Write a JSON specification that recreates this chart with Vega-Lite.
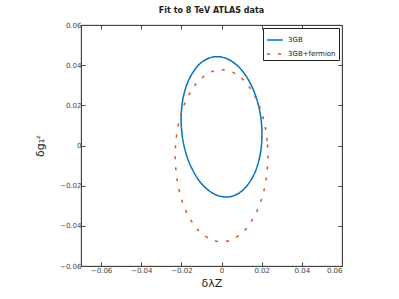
{
  "$schema": "https://vega.github.io/schema/vega-lite/v6.json",
  "width": 261,
  "height": 241,
  "autosize": "none",
  "padding": {"left": 81, "top": 25, "right": 57, "bottom": 33},
  "background": "white",
  "title": {"text": "Fit to 8 TeV ATLAS data", "font": "DejaVu Sans", "fontSize": 8, "fontWeight": "bold", "color": "#222", "offset": 6},
  "config": {
    "view": {"stroke": "#444", "strokeWidth": 0.8},
    "axis": {"labelFont": "DejaVu Sans", "labelFontSize": 7, "labelColor": "#444", "domainColor": "#444", "tickColor": "#444", "tickSize": -4, "grid": false, "titleFont": "DejaVu Sans", "titleFontWeight": "normal", "titleColor": "#222", "titleFontSize": 11, "format": ".2~f"}
  },
  "data": {"values": [
    {"s": "3GB", "i": 0, "x": 0.0201, "y": 0.0076},
    {"s": "3GB", "i": 1, "x": 0.0196, "y": 0.0137},
    {"s": "3GB", "i": 2, "x": 0.0185, "y": 0.0196},
    {"s": "3GB", "i": 3, "x": 0.0168, "y": 0.0253},
    {"s": "3GB", "i": 4, "x": 0.0146, "y": 0.0304},
    {"s": "3GB", "i": 5, "x": 0.0120, "y": 0.0349},
    {"s": "3GB", "i": 6, "x": 0.0090, "y": 0.0387},
    {"s": "3GB", "i": 7, "x": 0.0057, "y": 0.0415},
    {"s": "3GB", "i": 8, "x": 0.0023, "y": 0.0434},
    {"s": "3GB", "i": 9, "x": -0.0012, "y": 0.0442},
    {"s": "3GB", "i": 10, "x": -0.0047, "y": 0.0440},
    {"s": "3GB", "i": 11, "x": -0.0080, "y": 0.0427},
    {"s": "3GB", "i": 12, "x": -0.0111, "y": 0.0404},
    {"s": "3GB", "i": 13, "x": -0.0138, "y": 0.0371},
    {"s": "3GB", "i": 14, "x": -0.0162, "y": 0.0330},
    {"s": "3GB", "i": 15, "x": -0.0180, "y": 0.0282},
    {"s": "3GB", "i": 16, "x": -0.0193, "y": 0.0228},
    {"s": "3GB", "i": 17, "x": -0.0200, "y": 0.0170},
    {"s": "3GB", "i": 18, "x": -0.0201, "y": 0.0110},
    {"s": "3GB", "i": 19, "x": -0.0196, "y": 0.0049},
    {"s": "3GB", "i": 20, "x": -0.0185, "y": -0.0010},
    {"s": "3GB", "i": 21, "x": -0.0168, "y": -0.0067},
    {"s": "3GB", "i": 22, "x": -0.0146, "y": -0.0118},
    {"s": "3GB", "i": 23, "x": -0.0120, "y": -0.0163},
    {"s": "3GB", "i": 24, "x": -0.0090, "y": -0.0201},
    {"s": "3GB", "i": 25, "x": -0.0057, "y": -0.0229},
    {"s": "3GB", "i": 26, "x": -0.0023, "y": -0.0248},
    {"s": "3GB", "i": 27, "x": 0.0012, "y": -0.0256},
    {"s": "3GB", "i": 28, "x": 0.0047, "y": -0.0254},
    {"s": "3GB", "i": 29, "x": 0.0080, "y": -0.0241},
    {"s": "3GB", "i": 30, "x": 0.0111, "y": -0.0218},
    {"s": "3GB", "i": 31, "x": 0.0138, "y": -0.0185},
    {"s": "3GB", "i": 32, "x": 0.0162, "y": -0.0144},
    {"s": "3GB", "i": 33, "x": 0.0180, "y": -0.0096},
    {"s": "3GB", "i": 34, "x": 0.0193, "y": -0.0042},
    {"s": "3GB", "i": 35, "x": 0.0200, "y": 0.0016},
    {"s": "3GB+fermion", "i": 0, "x": 0.0231, "y": -0.0051},
    {"s": "3GB+fermion", "i": 1, "x": 0.0227, "y": 0.0023},
    {"s": "3GB+fermion", "i": 2, "x": 0.0217, "y": 0.0095},
    {"s": "3GB+fermion", "i": 3, "x": 0.0200, "y": 0.0163},
    {"s": "3GB+fermion", "i": 4, "x": 0.0177, "y": 0.0224},
    {"s": "3GB+fermion", "i": 5, "x": 0.0148, "y": 0.0277},
    {"s": "3GB+fermion", "i": 6, "x": 0.0116, "y": 0.0320},
    {"s": "3GB+fermion", "i": 7, "x": 0.0079, "y": 0.0351},
    {"s": "3GB+fermion", "i": 8, "x": 0.0040, "y": 0.0371},
    {"s": "3GB+fermion", "i": 9, "x": 0.0000, "y": 0.0377},
    {"s": "3GB+fermion", "i": 10, "x": -0.0040, "y": 0.0371},
    {"s": "3GB+fermion", "i": 11, "x": -0.0079, "y": 0.0351},
    {"s": "3GB+fermion", "i": 12, "x": -0.0116, "y": 0.0320},
    {"s": "3GB+fermion", "i": 13, "x": -0.0148, "y": 0.0277},
    {"s": "3GB+fermion", "i": 14, "x": -0.0177, "y": 0.0224},
    {"s": "3GB+fermion", "i": 15, "x": -0.0200, "y": 0.0163},
    {"s": "3GB+fermion", "i": 16, "x": -0.0217, "y": 0.0095},
    {"s": "3GB+fermion", "i": 17, "x": -0.0227, "y": 0.0023},
    {"s": "3GB+fermion", "i": 18, "x": -0.0231, "y": -0.0051},
    {"s": "3GB+fermion", "i": 19, "x": -0.0227, "y": -0.0125},
    {"s": "3GB+fermion", "i": 20, "x": -0.0217, "y": -0.0197},
    {"s": "3GB+fermion", "i": 21, "x": -0.0200, "y": -0.0265},
    {"s": "3GB+fermion", "i": 22, "x": -0.0177, "y": -0.0326},
    {"s": "3GB+fermion", "i": 23, "x": -0.0148, "y": -0.0379},
    {"s": "3GB+fermion", "i": 24, "x": -0.0116, "y": -0.0422},
    {"s": "3GB+fermion", "i": 25, "x": -0.0079, "y": -0.0453},
    {"s": "3GB+fermion", "i": 26, "x": -0.0040, "y": -0.0473},
    {"s": "3GB+fermion", "i": 27, "x": 0.0000, "y": -0.0479},
    {"s": "3GB+fermion", "i": 28, "x": 0.0040, "y": -0.0473},
    {"s": "3GB+fermion", "i": 29, "x": 0.0079, "y": -0.0453},
    {"s": "3GB+fermion", "i": 30, "x": 0.0116, "y": -0.0422},
    {"s": "3GB+fermion", "i": 31, "x": 0.0148, "y": -0.0379},
    {"s": "3GB+fermion", "i": 32, "x": 0.0177, "y": -0.0326},
    {"s": "3GB+fermion", "i": 33, "x": 0.0200, "y": -0.0265},
    {"s": "3GB+fermion", "i": 34, "x": 0.0217, "y": -0.0197},
    {"s": "3GB+fermion", "i": 35, "x": 0.0227, "y": -0.0125}
  ]},
  "layer": [
    {
      "mark": {"type": "line", "interpolate": "cardinal-closed", "strokeWidth": 1.5},
      "encoding": {
        "x": {"field": "x", "type": "quantitative", "scale": {"domain": [-0.07, 0.06], "nice": false, "zero": false}, "axis": {"values": [-0.06, -0.04, -0.02, 0, 0.02, 0.04, 0.06], "title": "δλZ", "titlePadding": 4, "labelPadding": 4}},
        "y": {"field": "y", "type": "quantitative", "scale": {"domain": [-0.06, 0.06], "nice": false, "zero": false}, "axis": {"values": [-0.06, -0.04, -0.02, 0, 0.02, 0.04, 0.06], "title": "δg₁ᶻ", "titlePadding": 14, "labelPadding": 4}},
        "order": {"field": "i", "type": "quantitative"},
        "color": {"field": "s", "type": "nominal", "scale": {"domain": ["3GB", "3GB+fermion"], "range": ["#0072BD", "#D95319"]}, "legend": {"title": null, "orient": "top-right", "offset": 3, "symbolType": "stroke", "symbolSize": 250, "symbolStrokeWidth": 1.5, "labelFont": "DejaVu Sans", "labelFontSize": 7, "labelColor": "#222", "strokeColor": "#222", "fillColor": "white", "padding": 3, "rowPadding": 2}},
        "strokeDash": {"field": "s", "type": "nominal", "scale": {"domain": ["3GB", "3GB+fermion"], "range": [[1, 0], [3, 8]]}, "legend": {"title": null}}
      }
    },
    {
      "mark": {"type": "point", "opacity": 0},
      "encoding": {
        "x": {"field": "x", "type": "quantitative", "axis": {"orient": "top", "values": [-0.06, -0.04, -0.02, 0, 0.02, 0.04, 0.06], "labels": false, "title": null}},
        "y": {"field": "y", "type": "quantitative", "axis": {"orient": "right", "values": [-0.06, -0.04, -0.02, 0, 0.02, 0.04, 0.06], "labels": false, "title": null}}
      }
    }
  ],
  "resolve": {"axis": {"x": "independent", "y": "independent"}}
}
